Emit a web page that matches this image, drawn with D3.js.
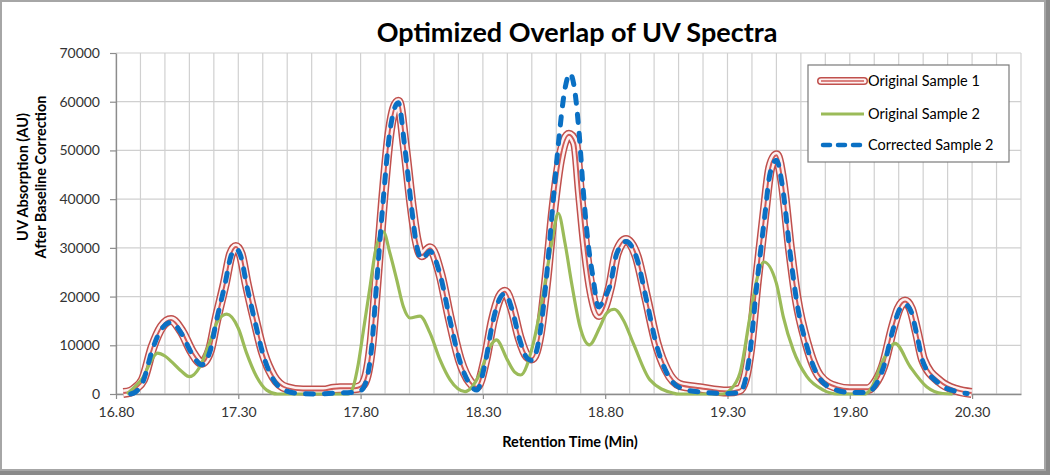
<!DOCTYPE html>
<html><head><meta charset="utf-8">
<script src="https://cdn.jsdelivr.net/npm/d3@7"></script>
<style>body{margin:0;background:#fff}svg{display:block}</style>
</head><body><svg id="c" width="1050" height="475"></svg>
<script>
// ---------- data ----------
const chartTitle = "Optimized Overlap of UV Spectra";
const xTitle = "Retention Time (Min)";
const yTitleLines = ["UV Absorption (AU)", "After Baseline Correction"];
const seriesNames = ["Original Sample 1", "Original Sample 2", "Corrected Sample 2"];
const xTickValues = [16.8, 17.3, 17.8, 18.3, 18.8, 19.3, 19.8, 20.3];
const yTickValues = [0, 10000, 20000, 30000, 40000, 50000, 60000, 70000];
const xDomain = [16.8, 20.5];
const yDomain = [0, 70000];

const original1Time = [16.83,16.86,16.88,16.91,16.95,16.987,17.025,17.069,17.11,17.15,17.184,17.21,17.245,17.27,17.29,17.31,17.334,17.368,17.402,17.443,17.498,17.565,17.647,17.69,17.716,17.777,17.80,17.82,17.845,17.866,17.892,17.92,17.954,17.981,18.009,18.029,18.05,18.084,18.125,18.166,18.206,18.247,18.275,18.31,18.34,18.37,18.39,18.42,18.45,18.48,18.50,18.533,18.561,18.588,18.615,18.652,18.677,18.697,18.717,18.745,18.775,18.82,18.847,18.885,18.929,18.97,19.01,19.051,19.105,19.188,19.30,19.35,19.392,19.419,19.45,19.475,19.50,19.525,19.556,19.583,19.624,19.678,19.746,19.80,19.87,19.90,19.936,19.977,20.00,20.026,20.05,20.075,20.10,20.169,20.237,20.298];
const original1Values = [200,500,1200,2900,9700,13800,15200,12800,8700,6400,9000,15200,22700,28700,30200,28700,22700,15200,8400,3600,1200,700,700,1100,1200,1200,1500,3000,10500,23400,39800,54200,60000,50800,38500,31600,28500,29900,24800,15200,7000,2500,1500,7000,15000,20000,21000,17500,11500,7800,7300,12500,24100,37800,48000,53200,51500,41200,30900,20700,16200,22000,28900,31600,28200,19300,10400,4900,1850,1200,500,900,9000,22700,36500,46500,49000,43500,29600,19500,10400,3600,1400,950,950,2000,5600,13800,17500,19000,17500,12500,7000,2500,800,200];

const original2Time = [16.845,16.871,16.912,16.94,16.97,17.00,17.028,17.069,17.10,17.143,17.184,17.218,17.253,17.30,17.334,17.375,17.416,17.46,17.75,17.77,17.79,17.81,17.84,17.859,17.893,17.92,17.948,17.975,18.002,18.043,18.084,18.125,18.166,18.227,18.288,18.329,18.355,18.40,18.43,18.454,18.506,18.547,18.581,18.608,18.636,18.663,18.697,18.735,18.779,18.806,18.837,18.874,18.915,18.983,19.077,19.10,19.28,19.31,19.351,19.392,19.42,19.449,19.50,19.528,19.569,19.624,19.692,19.75,19.86,19.883,19.937,19.985,20.047,20.114,20.18,20.22];
const original2Values = [0,1200,3550,6500,8400,7800,6600,4600,3550,5600,10700,15200,16400,13500,8400,3550,800,0,0,1500,6000,12500,22500,28900,33300,28900,23400,17900,15600,16000,12500,7000,2900,500,4200,9700,11100,7000,4500,3900,10400,20700,30900,37100,30900,22700,13800,10100,13800,16600,17400,15200,10400,2900,200,0,0,800,4300,15900,23500,27100,22700,15900,9000,3600,800,0,0,800,7000,10400,5600,1500,100,0];

const corrected2Time = [16.86,16.88,16.91,16.95,16.987,17.025,17.069,17.11,17.15,17.184,17.21,17.245,17.27,17.29,17.31,17.334,17.368,17.402,17.443,17.498,17.55,17.62,17.70,17.76,17.80,17.82,17.845,17.866,17.892,17.92,17.954,17.981,18.009,18.029,18.05,18.084,18.125,18.166,18.206,18.247,18.275,18.31,18.34,18.37,18.39,18.42,18.45,18.48,18.50,18.533,18.561,18.588,18.61,18.635,18.656,18.675,18.695,18.71,18.73,18.75,18.772,18.80,18.82,18.847,18.885,18.929,18.97,19.01,19.051,19.105,19.188,19.30,19.35,19.392,19.419,19.45,19.475,19.50,19.525,19.556,19.583,19.624,19.678,19.746,19.80,19.87,19.90,19.936,19.977,20.00,20.026,20.05,20.075,20.10,20.169,20.237,20.28];
const corrected2Values = [0,400,2500,9300,13400,14700,12300,8300,6000,8700,14900,22400,28300,29800,28300,22400,14900,8000,3000,600,100,0,200,300,700,2200,9500,23000,39500,54000,59800,50500,38000,30500,27700,29300,24500,15000,6700,2000,800,6500,14700,19700,20600,17200,11200,7400,6900,12300,24500,40000,52000,62500,65800,62500,52500,42000,31000,24000,17900,20000,22300,28800,31300,27900,19000,10000,4400,1300,400,100,300,8500,22000,35500,45500,48000,42500,29000,19000,9900,3100,800,300,300,1400,5200,13300,17000,18400,17000,12000,6500,2000,500,100];

// ---------- chart ----------
const svg = d3.select("#c");
const W = 1050, H = 475;
const FONT = "Lato, 'Open Sans', sans-serif";

// frame with shadow
svg.append("rect").attr("x",0).attr("y",0).attr("width",W).attr("height",H).attr("fill","#8a8a8a");
svg.append("rect").attr("x",1).attr("y",1).attr("width",W-6).attr("height",H-6)
  .attr("fill","#fff").attr("stroke","#a6a6a6").attr("stroke-width",2);

const x = d3.scaleLinear().domain(xDomain).range([116, 1021]);
const y = d3.scaleLinear().domain(yDomain).range([394, 53]);

// gridlines
const minorX = d3.range(0, 38).map(i => +(xDomain[0] + i * 0.1).toFixed(2));
const grid = svg.append("g");
grid.selectAll("line.v").data(minorX).join("line")
  .attr("x1", d => x(d)).attr("x2", d => x(d))
  .attr("y1", y(yDomain[0])).attr("y2", y(yDomain[1]))
  .attr("stroke", "#d0d0d0").attr("stroke-width", 1.2);
grid.selectAll("line.h").data(yTickValues).join("line")
  .attr("x1", x(xDomain[0])).attr("x2", x(xDomain[1]))
  .attr("y1", d => y(d)).attr("y2", d => y(d))
  .attr("stroke", "#d0d0d0").attr("stroke-width", 1.2);

// axes
const yAxis = svg.append("g").attr("transform", `translate(${x(xDomain[0])},0)`)
  .call(d3.axisLeft(y).tickValues(yTickValues).tickFormat(d3.format("d")).tickSize(6).tickSizeOuter(0).tickPadding(10));
const xAxis = svg.append("g").attr("transform", `translate(0,${y(0)})`)
  .call(d3.axisBottom(x).tickValues(xTickValues).tickFormat(d => d.toFixed(2)).tickSize(5).tickSizeOuter(0).tickPadding(8));
[xAxis, yAxis].forEach(g => {
  g.select(".domain").attr("stroke", "#8c8c8c").attr("stroke-width", 1.3);
  g.selectAll(".tick line").attr("stroke", "#8c8c8c").attr("stroke-width", 1.2);
  g.selectAll(".tick text").attr("fill", "#333").style("font-family", FONT).style("font-size", "14px");
});

// lines
const line = (t, v) => d3.line().curve(d3.curveMonotoneX)
  .x((d, i) => x(t[i])).y((d, i) => y(v[i]))(v);

const s1 = line(original1Time, original1Values);
svg.append("path").attr("d", s1).attr("fill","none").attr("stroke","#c0504d").attr("stroke-width",10).attr("stroke-linejoin","round");
svg.append("path").attr("d", s1).attr("fill","none").attr("stroke","#fdf1f1").attr("stroke-width",7).attr("stroke-linejoin","round");
svg.append("path").attr("d", s1).attr("fill","none").attr("stroke","#cf5b58").attr("stroke-width",2).attr("stroke-linejoin","round");

svg.append("path").attr("d", line(original2Time, original2Values)).attr("fill","none")
  .attr("stroke","#9bbb59").attr("stroke-width",3.2).attr("stroke-linejoin","round");

svg.append("path").attr("d", line(corrected2Time, corrected2Values)).attr("fill","none")
  .attr("stroke","#0a70c4").attr("stroke-width",5).attr("stroke-dasharray","8,11").attr("stroke-linecap","round");

// titles
svg.append("text").attr("x", 577).attr("y", 42).attr("text-anchor","middle")
  .style("font-family", FONT).style("font-weight","bold").style("font-size","27px").attr("fill","#000").text(chartTitle);
svg.append("text").attr("x", 570).attr("y", 447).attr("text-anchor","middle")
  .style("font-family", FONT).style("font-weight","bold").style("font-size","14.5px").attr("fill","#000").text(xTitle);
const yt = svg.append("text").attr("transform","translate(0,177) rotate(-90)").attr("text-anchor","middle")
  .style("font-family", FONT).style("font-weight","bold").style("font-size","14.5px").attr("fill","#000");
yTitleLines.forEach((s, i) => yt.append("tspan").attr("x", 0).attr("y", 28 + i * 17.5).text(s));

// legend
const lg = svg.append("g");
lg.append("rect").attr("x", 808).attr("y", 65).attr("width", 201).attr("height", 97)
  .attr("fill","#fff").attr("stroke","#7a7a7a").attr("stroke-width",1.2);
const rowsY = [81, 114, 145];
seriesNames.forEach((name, i) => {
  const yy = rowsY[i];
  const seg = `M821,${yy}L864,${yy}`;
  if (i === 0) {
    lg.append("path").attr("d", seg).attr("stroke","#c0504d").attr("stroke-width",8).attr("stroke-linecap","round");
    lg.append("path").attr("d", seg).attr("stroke","#fdf1f1").attr("stroke-width",5).attr("stroke-linecap","round");
    lg.append("path").attr("d", seg).attr("stroke","#cf5b58").attr("stroke-width",1.5);
  } else if (i === 1) {
    lg.append("path").attr("d", seg).attr("stroke","#9bbb59").attr("stroke-width",3.2);
  } else {
    lg.append("path").attr("d", `M823,${yy}L864,${yy}`).attr("stroke","#0a70c4").attr("stroke-width",4.5)
      .attr("stroke-dasharray","7,8").attr("stroke-linecap","round");
  }
  lg.append("text").attr("x", 868).attr("y", yy).attr("dy","0.35em")
    .style("font-family", FONT).style("font-size","14.5px").attr("fill","#000").text(name);
});
</script></body></html>
